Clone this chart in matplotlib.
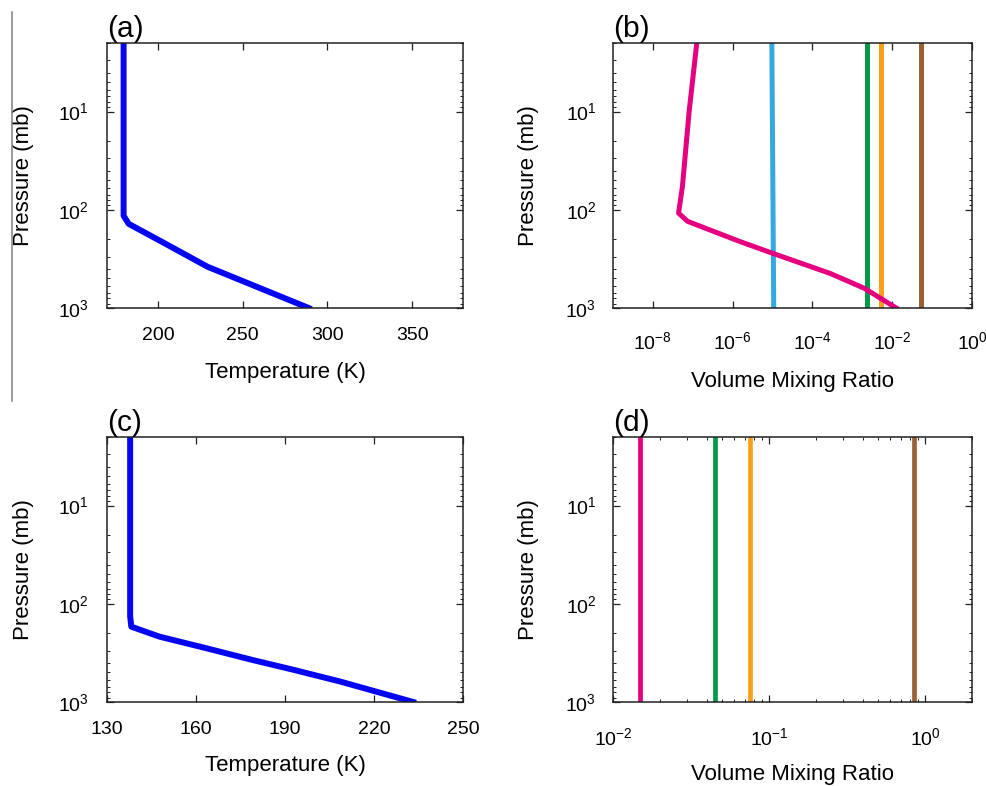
import matplotlib
matplotlib.use("Agg")
import matplotlib.pyplot as plt
from matplotlib.lines import Line2D
from matplotlib.ticker import LogLocator, LogFormatterMathtext, NullFormatter, FixedLocator, NullLocator

plt.rcParams["font.family"] = ["Liberation Sans", "DejaVu Sans"]
plt.rcParams["mathtext.fontset"] = "custom"
plt.rcParams["mathtext.rm"] = "Liberation Sans"
plt.rcParams["mathtext.it"] = "Liberation Sans:italic"
plt.rcParams["mathtext.bf"] = "Liberation Sans:bold"
plt.rcParams["mathtext.sf"] = "Liberation Sans"

# ---- (a) temperature profile, warm case ----
p_a = [2, 115, 139, 210, 380, 630, 1000]
T_a = [179.8, 179.8, 182.8, 202.0, 229.3, 260.5, 289.0]

# ---- (b) volume mixing ratios, warm case ----
p_b_h2o = [2, 10, 58, 108, 131, 210, 277, 445, 630, 1000]
vmr_b_h2o = [1.26e-7, 8.1e-8, 5.5e-8, 4.4e-8, 7.4e-8, 1.5e-6, 1.0e-5, 2.8e-4, 2.0e-3, 1.26e-2]
p_b_const = [2, 1000]
vmr_b_cyan = [9.6e-6, 1.07e-5]
vmr_b_green = [2.4e-3, 2.4e-3]
vmr_b_orange = [5.1e-3, 5.1e-3]
vmr_b_brown = [0.054, 0.054]

# ---- (c) temperature profile, cold case ----
p_c = [2, 134, 171, 216, 283, 373, 471, 620, 1000]
T_c = [137.8, 137.8, 138.2, 147.7, 163.4, 179.0, 193.0, 208.7, 233.2]

# ---- (d) volume mixing ratios, cold case ----
p_d = [2, 1000]
vmr_d_pink = [0.015, 0.015]
vmr_d_green = [0.045, 0.045]
vmr_d_orange = [0.075, 0.075]
vmr_d_brown = [0.85, 0.85]

BLUE = "#0505F2"
PINK = "#E4007F"
CYAN = "#35A8E0"
GREEN = "#00994A"
ORANGE = "#F7A11A"
BROWN = "#9A6234"

W, H = 986, 786
fig = plt.figure(figsize=(W / 100, H / 100), dpi=100)


def axes_px(left, top, right, bottom):
    return fig.add_axes([left / W, 1 - bottom / H, (right - left) / W, (bottom - top) / H])


ax_a = axes_px(107, 43, 463, 308)
ax_b = axes_px(613, 43, 972, 308)
ax_c = axes_px(107, 437, 463, 702)
ax_d = axes_px(613, 437, 972, 702)


def style_pressure_axis(ax, ypad):
    ax.set_yscale("log")
    ax.set_ylim(1000, 2)
    ax.yaxis.set_major_locator(FixedLocator([10, 100, 1000]))
    ax.yaxis.set_major_formatter(LogFormatterMathtext())
    ax.yaxis.set_minor_locator(LogLocator(base=10, subs=range(2, 10)))
    ax.yaxis.set_minor_formatter(NullFormatter())
    ax.set_ylabel("Pressure (mb)", fontsize=16, va="center")
    ax.yaxis.set_label_coords(-0.235, 0.5)
    ax.tick_params(axis="y", which="major", pad=ypad)


def style_common(ax, xpad=14):
    ax.tick_params(which="both", direction="in", top=True, right=True,
                   labelsize=14, color="#222222")
    ax.tick_params(which="major", length=5, width=0.9)
    ax.tick_params(which="minor", length=2.5, width=0.7)
    ax.tick_params(axis="x", which="major", pad=xpad)
    for s in ax.spines.values():
        s.set_linewidth(1.1)
        s.set_color("#222222")


def panel_label(ax, text):
    ax.text(0.0, 1.0, text, transform=ax.transAxes, ha="left", va="bottom",
            fontsize=21.5)


# (a)
ax_a.plot(T_a, p_a, color=BLUE, lw=4.3, solid_joinstyle="round")
style_pressure_axis(ax_a, 13)
ax_a.set_xlim(170, 380)
ax_a.set_xticks([200, 250, 300, 350])
ax_a.xaxis.set_minor_locator(NullLocator())
style_common(ax_a, xpad=14)
ax_a.set_xlabel("Temperature (K)", fontsize=16, va="center")
ax_a.xaxis.set_label_coords(0.5, -0.242)
panel_label(ax_a, "(a)")

# (b)
for vmr, col in [(vmr_b_cyan, CYAN), (vmr_b_green, GREEN),
                 (vmr_b_orange, ORANGE), (vmr_b_brown, BROWN)]:
    ax_b.plot(vmr, p_b_const, color=col, lw=3.6)
ax_b.plot(vmr_b_h2o, p_b_h2o, color=PINK, lw=3.6, solid_joinstyle="round")
ax_b.set_xscale("log")
style_pressure_axis(ax_b, 12)
ax_b.set_xlim(1e-9, 1.0)
ax_b.xaxis.set_major_locator(FixedLocator([1e-8, 1e-6, 1e-4, 1e-2, 1e0]))
ax_b.xaxis.set_major_formatter(LogFormatterMathtext())
ax_b.xaxis.set_minor_locator(NullLocator())
style_common(ax_b, xpad=16.5)
ax_b.set_xlabel("Volume Mixing Ratio", fontsize=16, va="center")
ax_b.xaxis.set_label_coords(0.5, -0.278)
panel_label(ax_b, "(b)")

# (c)
ax_c.plot(T_c, p_c, color=BLUE, lw=4.3, solid_joinstyle="round")
style_pressure_axis(ax_c, 13)
ax_c.set_xlim(130, 250)
ax_c.set_xticks([130, 160, 190, 220, 250])
ax_c.xaxis.set_minor_locator(NullLocator())
style_common(ax_c, xpad=14)
ax_c.set_xlabel("Temperature (K)", fontsize=16, va="center")
ax_c.xaxis.set_label_coords(0.5, -0.238)
panel_label(ax_c, "(c)")

# (d)
for vmr, col in [(vmr_d_pink, PINK), (vmr_d_green, GREEN),
                 (vmr_d_orange, ORANGE), (vmr_d_brown, BROWN)]:
    ax_d.plot(vmr, p_d, color=col, lw=3.4)
ax_d.set_xscale("log")
style_pressure_axis(ax_d, 12)
ax_d.set_xlim(1e-2, 2.0)
ax_d.xaxis.set_major_locator(FixedLocator([1e-2, 1e-1, 1e0]))
ax_d.xaxis.set_major_formatter(LogFormatterMathtext())
ax_d.xaxis.set_minor_locator(LogLocator(base=10, subs=range(2, 10)))
ax_d.xaxis.set_minor_formatter(NullFormatter())
style_common(ax_d, xpad=18)
ax_d.set_xlabel("Volume Mixing Ratio", fontsize=16, va="center")
ax_d.xaxis.set_label_coords(0.5, -0.272)
panel_label(ax_d, "(d)")

# thin separator rule at the left edge
fig.add_artist(Line2D([12 / W, 12 / W], [1 - 12 / H, 1 - 401 / H],
                      color="#808080", lw=1.1))

fig.savefig("out.png", dpi=100)
